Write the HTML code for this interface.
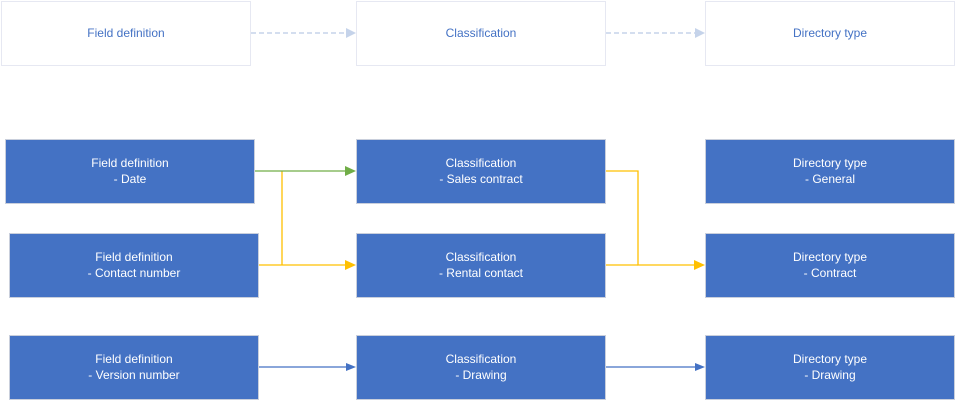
<!DOCTYPE html>
<html><head><meta charset="utf-8"><style>
html,body{margin:0;padding:0;background:#fff;width:956px;height:400px;overflow:hidden}
text{font-family:"Liberation Sans",sans-serif;font-size:12px;text-anchor:middle}
</style></head><body>
<svg width="956" height="400" viewBox="0 0 956 400" xmlns="http://www.w3.org/2000/svg">
<g fill="#fff" stroke="#e6e8f2" stroke-width="1">
<rect x="1.5" y="1.5" width="249" height="64"/>
<rect x="356.5" y="1.5" width="249" height="64"/>
<rect x="705.5" y="1.5" width="249" height="64"/>
</g>
<g fill="#4472c4">
<text x="126" y="37">Field definition</text>
<text x="481" y="37">Classification</text>
<text x="830" y="37">Directory type</text>
</g>
<g stroke="#c5d3ea" stroke-width="1.5" stroke-dasharray="5,3" fill="none">
<line x1="251" y1="33" x2="346" y2="33"/>
<line x1="606" y1="33" x2="695" y2="33"/>
</g>
<g fill="#c5d3ea">
<polygon points="346,28 356,33 346,38"/>
<polygon points="695,28 705,33 695,38"/>
</g>
<g fill="#4472c4" stroke="#c9cfdc" stroke-width="1">
<rect x="5.5" y="139.5" width="249" height="64"/>
<rect x="9.5" y="233.5" width="249" height="64"/>
<rect x="9.5" y="335.5" width="249" height="64"/>
<rect x="356.5" y="139.5" width="249" height="64"/>
<rect x="356.5" y="233.5" width="249" height="64"/>
<rect x="356.5" y="335.5" width="249" height="64"/>
<rect x="705.5" y="139.5" width="249" height="64"/>
<rect x="705.5" y="233.5" width="249" height="64"/>
<rect x="705.5" y="335.5" width="249" height="64"/>
</g>
<g fill="#fff">
<text x="130" y="167">Field definition</text><text x="130" y="183">- Date</text>
<text x="134" y="261">Field definition</text><text x="134" y="277">- Contact number</text>
<text x="134" y="363">Field definition</text><text x="134" y="379">- Version number</text>
<text x="481" y="167">Classification</text><text x="481" y="183">- Sales contract</text>
<text x="481" y="261">Classification</text><text x="481" y="277">- Rental contact</text>
<text x="481" y="363">Classification</text><text x="481" y="379">- Drawing</text>
<text x="830" y="167">Directory type</text><text x="830" y="183">- General</text>
<text x="830" y="261">Directory type</text><text x="830" y="277">- Contract</text>
<text x="830" y="363">Directory type</text><text x="830" y="379">- Drawing</text>
</g>
<g fill="none" stroke-width="1.3">
<polyline points="282,171 282,265 259,265 346,265" stroke="#ffc000"/>
<polyline points="606,171 638,171 638,265 695,265" stroke="#ffc000"/>
<line x1="606" y1="265" x2="638" y2="265" stroke="#ffc000"/>
<line x1="255" y1="171" x2="346" y2="171" stroke="#70ad47"/>
<line x1="259" y1="367" x2="346" y2="367" stroke="#4472c4"/>
<line x1="606" y1="367" x2="695" y2="367" stroke="#4472c4"/>
</g>
<polygon points="345,166 356,171 345,176" fill="#70ad47"/>
<polygon points="345,260 356,265 345,270" fill="#ffc000"/>
<polygon points="694,260 705,265 694,270" fill="#ffc000"/>
<polygon points="346,363 356,367 346,371" fill="#4472c4"/>
<polygon points="695,363 705,367 695,371" fill="#4472c4"/>
</svg>
</body></html>
